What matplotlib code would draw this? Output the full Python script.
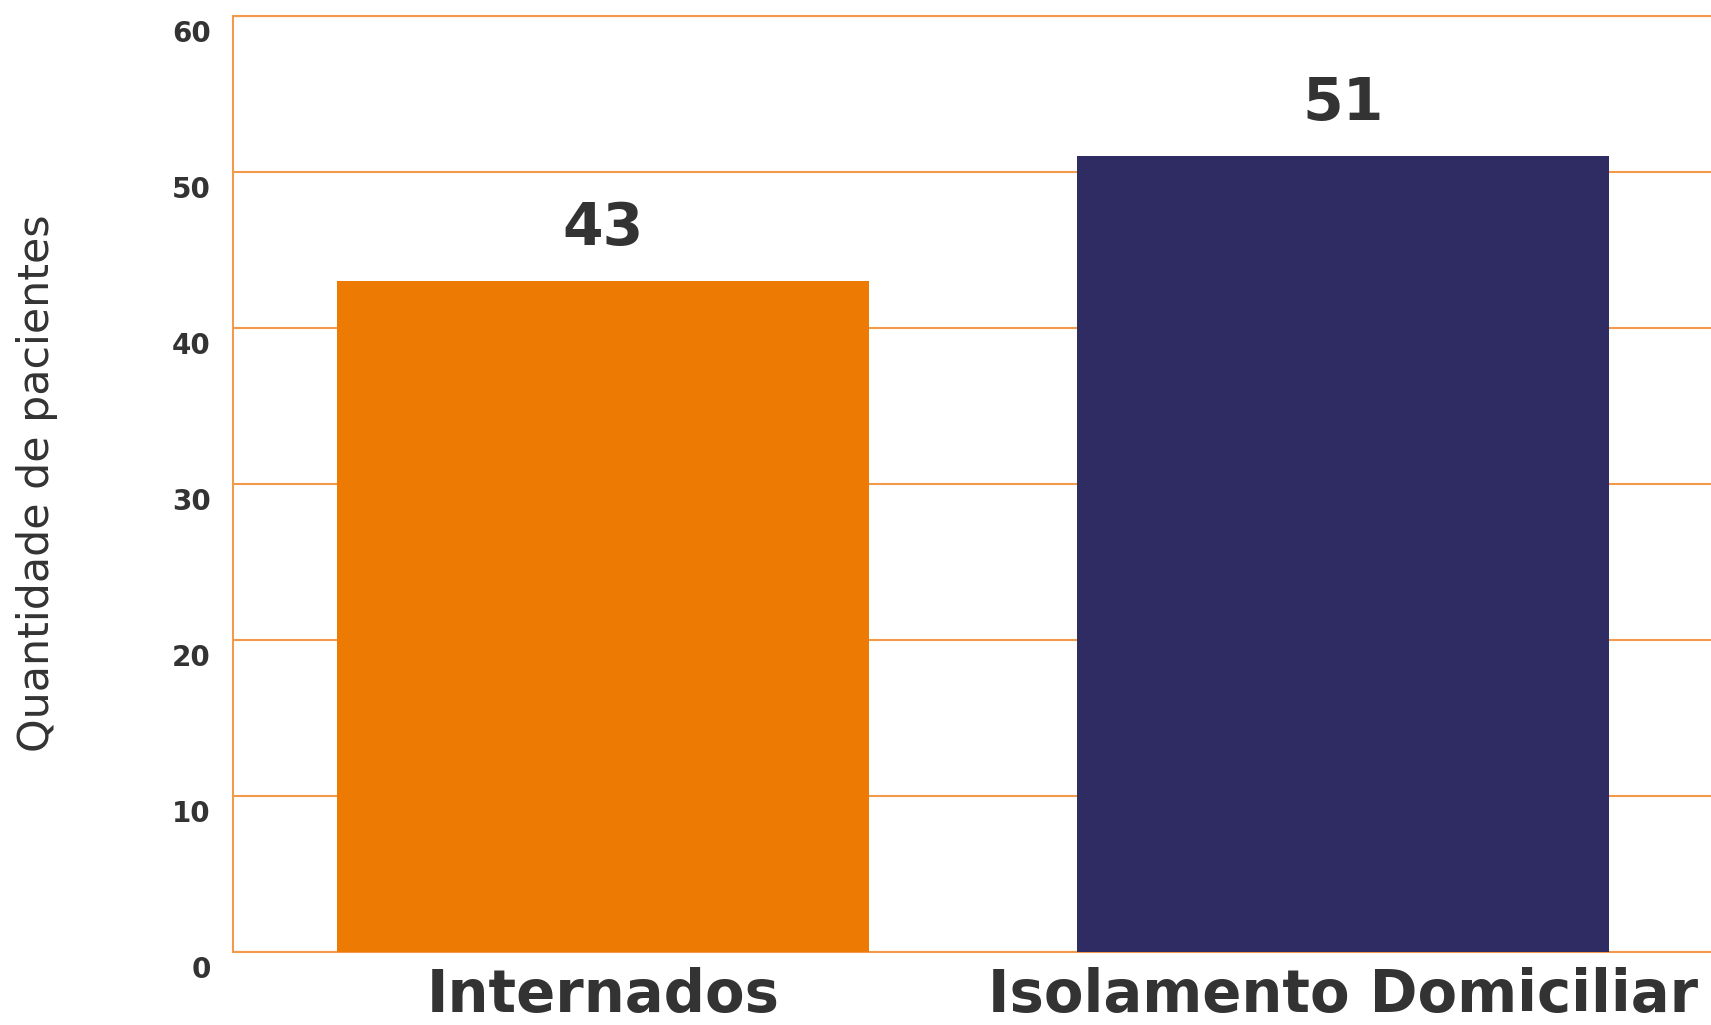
import matplotlib
matplotlib.use("Agg")
import matplotlib.pyplot as plt
from matplotlib.transforms import ScaledTranslation

categories = ["Internados", "Isolamento Domiciliar"]
values = [43, 51]
bar_colors = ["#EC7A03", "#2F2C64"]
yticks = [0, 10, 20, 30, 40, 50, 60]
ylabel = "Quantidade de pacientes"

grid_color = "#F29A4A"
text_color = "#333333"

fig = plt.figure(figsize=(17.11, 10.25), dpi=100)
fig.patch.set_facecolor("white")
ax = fig.add_axes([233/1711, 73/1025, 1480/1711, 936/1025])

x = list(range(len(categories)))
ax.bar(x, values, width=0.72, color=bar_colors, zorder=3)
ax.set_xlim(-0.5, 1.5)
ax.set_ylim(0, 60)
ax.set_yticks(yticks)
ax.set_yticklabels([str(t) for t in yticks], fontsize=20, fontweight="bold", color=text_color)
ax.set_xticks(x)
ax.set_xticklabels(categories, fontsize=41.5, fontweight="bold", color=text_color)
ax.tick_params(axis="both", length=0)
ax.tick_params(axis="y", pad=16)
ax.tick_params(axis="x", pad=11)

off = ScaledTranslation(0, -15/100, fig.dpi_scale_trans)
for lab in ax.get_yticklabels():
    lab.set_transform(lab.get_transform() + off)

ax.grid(axis="y", color=grid_color, linewidth=1.5, zorder=0)
ax.grid(axis="x", visible=False)
for s in ["left", "top", "bottom"]:
    ax.spines[s].set_color(grid_color)
    ax.spines[s].set_linewidth(1.5)
ax.spines["right"].set_visible(False)

for xi, v in zip(x, values):
    ax.annotate(str(v), (xi, v), xytext=(0, 38), textcoords="offset points",
                ha="center", va="center", fontsize=42, fontweight="bold", color=text_color)

fig.text(37/1711, 1 - 483/1025, ylabel, rotation=90, ha="center", va="center",
         fontsize=30.8, color=text_color)

fig.savefig("out.png", dpi=100, facecolor="white")
